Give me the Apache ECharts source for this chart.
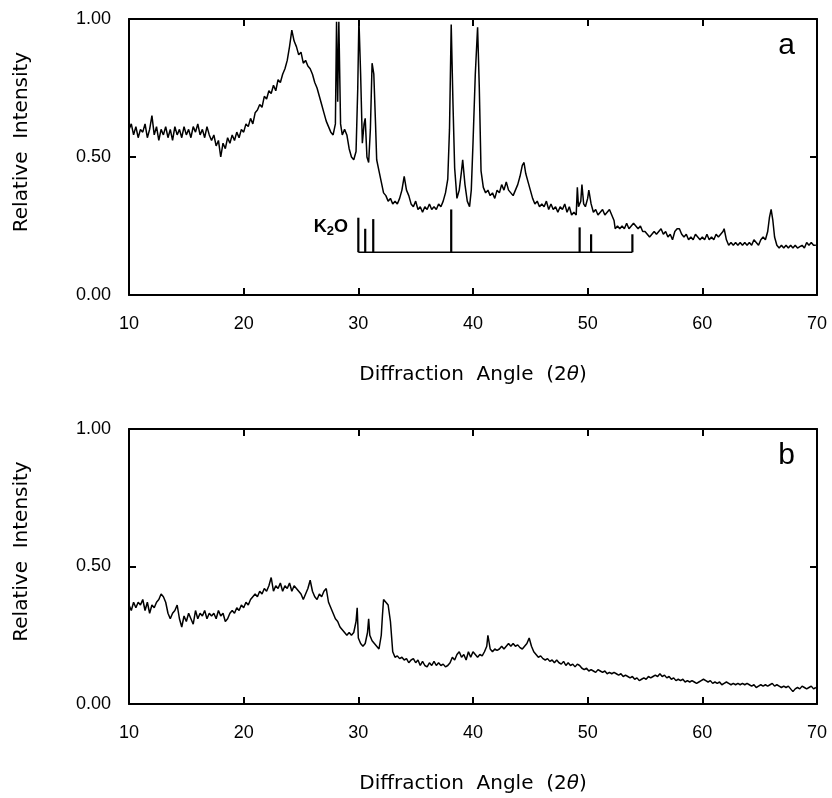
<!DOCTYPE html>
<html>
<head>
<meta charset="utf-8">
<script src="https://cdn.jsdelivr.net/npm/echarts@6/dist/echarts.min.js"></script>
<style>
html,body{margin:0;padding:0;background:#fff;}
#chart{width:832px;height:798px;}
</style>
</head>
<body>
<div id="chart"></div>
<script>
// ---- data ----
const xTicks = [10, 20, 30, 40, 50, 60, 70];
const yTicks = ['0.00', '0.50', '1.00'];

// panel a: [2theta, relative intensity]
const spectrumA = [
[10.0,0.60],[10.2,0.62],[10.4,0.58],[10.6,0.61],[10.8,0.57],[11.0,0.60],[11.2,0.59],[11.4,0.62],[11.6,0.57],[11.8,0.60],
[12.0,0.65],[12.2,0.58],[12.4,0.61],[12.6,0.56],[12.8,0.60],[13.0,0.58],[13.2,0.61],[13.4,0.57],[13.6,0.60],[13.8,0.56],
[14.0,0.61],[14.2,0.58],[14.4,0.60],[14.6,0.57],[14.8,0.61],[15.0,0.58],[15.2,0.60],[15.4,0.57],[15.6,0.61],[15.8,0.59],
[16.0,0.62],[16.2,0.58],[16.4,0.60],[16.6,0.57],[16.8,0.61],[17.0,0.58],[17.2,0.56],[17.4,0.58],[17.6,0.54],[17.8,0.56],
[18.0,0.50],[18.2,0.55],[18.4,0.53],[18.6,0.57],[18.8,0.55],[19.0,0.58],[19.2,0.56],[19.4,0.59],[19.6,0.57],[19.8,0.60],
[20.0,0.59],[20.2,0.62],[20.4,0.61],[20.6,0.64],[20.8,0.62],[21.0,0.66],[21.2,0.67],[21.4,0.69],[21.6,0.68],[21.8,0.72],
[22.0,0.71],[22.2,0.74],[22.4,0.73],[22.6,0.76],[22.8,0.74],[23.0,0.78],[23.2,0.77],[23.4,0.80],[23.6,0.82],[23.8,0.85],
[24.0,0.90],[24.2,0.96],[24.4,0.92],[24.6,0.90],[24.8,0.87],[25.0,0.88],[25.2,0.84],[25.4,0.85],[25.6,0.83],[25.8,0.82],
[26.0,0.80],[26.2,0.77],[26.4,0.75],[26.6,0.72],[26.8,0.69],[27.0,0.66],[27.2,0.63],[27.4,0.61],[27.6,0.59],[27.8,0.58],
[28.0,0.62],[28.1,0.99],[28.2,0.70],[28.3,0.99],[28.45,0.62],[28.6,0.58],[28.8,0.60],[29.0,0.58],[29.2,0.53],[29.4,0.50],
[29.6,0.49],[29.8,0.52],[29.95,0.75],[30.05,1.0],[30.2,0.80],[30.35,0.55],[30.5,0.62],[30.6,0.64],[30.75,0.50],[30.9,0.48],
[31.05,0.60],[31.2,0.84],[31.35,0.80],[31.5,0.62],[31.6,0.49],[31.8,0.45],[32.0,0.41],[32.2,0.37],[32.4,0.36],[32.6,0.34],
[32.8,0.35],[33.0,0.33],[33.2,0.34],[33.4,0.33],[33.6,0.35],[33.8,0.38],[34.0,0.43],[34.2,0.38],[34.4,0.36],[34.6,0.33],
[34.8,0.32],[35.0,0.34],[35.2,0.31],[35.4,0.32],[35.6,0.30],[35.8,0.32],[36.0,0.31],[36.2,0.33],[36.4,0.31],[36.6,0.32],
[36.8,0.31],[37.0,0.33],[37.2,0.32],[37.4,0.34],[37.6,0.37],[37.8,0.42],[37.95,0.60],[38.1,0.98],[38.25,0.70],[38.4,0.46],
[38.6,0.35],[38.8,0.38],[39.0,0.45],[39.1,0.49],[39.3,0.40],[39.5,0.34],[39.7,0.32],[39.85,0.38],[40.0,0.55],[40.2,0.80],
[40.4,0.97],[40.55,0.75],[40.7,0.45],[40.9,0.39],[41.1,0.37],[41.3,0.38],[41.5,0.36],[41.7,0.37],[41.9,0.35],[42.1,0.38],
[42.3,0.37],[42.5,0.40],[42.7,0.38],[42.9,0.41],[43.1,0.38],[43.3,0.37],[43.5,0.36],[43.7,0.38],[43.9,0.40],[44.1,0.43],
[44.3,0.47],[44.45,0.48],[44.6,0.44],[44.8,0.41],[45.0,0.38],[45.2,0.35],[45.4,0.33],[45.6,0.34],[45.8,0.32],[46.0,0.33],
[46.2,0.32],[46.4,0.34],[46.6,0.31],[46.8,0.33],[47.0,0.31],[47.2,0.32],[47.4,0.30],[47.6,0.32],[47.8,0.31],[48.0,0.33],
[48.2,0.30],[48.4,0.32],[48.6,0.29],[48.8,0.30],[49.0,0.29],[49.1,0.39],[49.2,0.32],[49.4,0.34],[49.5,0.40],[49.65,0.33],
[49.8,0.32],[50.0,0.35],[50.1,0.38],[50.3,0.33],[50.5,0.30],[50.7,0.31],[50.9,0.29],[51.1,0.30],[51.3,0.31],[51.5,0.29],
[51.7,0.30],[51.9,0.31],[52.1,0.29],[52.3,0.27],[52.4,0.24],[52.6,0.25],[52.8,0.24],[53.0,0.25],[53.2,0.24],[53.4,0.26],
[53.6,0.24],[53.8,0.25],[54.0,0.26],[54.2,0.25],[54.4,0.24],[54.6,0.25],[54.8,0.23],[55.0,0.23],[55.2,0.22],[55.4,0.21],
[55.6,0.22],[55.8,0.23],[56.0,0.22],[56.2,0.23],[56.4,0.24],[56.6,0.22],[56.8,0.23],[57.0,0.21],[57.2,0.22],[57.4,0.20],
[57.6,0.23],[57.8,0.24],[58.0,0.24],[58.2,0.22],[58.4,0.21],[58.6,0.22],[58.8,0.20],[59.0,0.21],[59.2,0.20],[59.4,0.22],
[59.6,0.21],[59.8,0.20],[60.0,0.21],[60.2,0.20],[60.4,0.22],[60.6,0.20],[60.8,0.21],[61.0,0.20],[61.2,0.22],[61.4,0.21],
[61.6,0.22],[61.8,0.23],[61.9,0.24],[62.1,0.20],[62.3,0.18],[62.5,0.19],[62.7,0.18],[62.9,0.19],[63.1,0.18],[63.3,0.19],
[63.5,0.18],[63.7,0.19],[63.9,0.18],[64.1,0.19],[64.3,0.18],[64.5,0.20],[64.7,0.19],[64.9,0.18],[65.1,0.20],[65.3,0.21],
[65.5,0.20],[65.7,0.23],[65.85,0.28],[66.0,0.31],[66.15,0.27],[66.3,0.21],[66.5,0.18],[66.7,0.17],[66.9,0.18],[67.1,0.17],
[67.3,0.18],[67.5,0.17],[67.7,0.18],[67.9,0.17],[68.1,0.18],[68.3,0.17],[68.5,0.175],[68.7,0.18],[68.9,0.17],[69.1,0.19],
[69.3,0.18],[69.5,0.19],[69.7,0.18],[69.9,0.18]
];

// panel b
const spectrumB = [
[10.0,0.36],[10.2,0.34],[10.4,0.37],[10.6,0.35],[10.8,0.37],[11.0,0.36],[11.2,0.38],[11.4,0.34],[11.6,0.37],[11.8,0.33],
[12.0,0.36],[12.2,0.35],[12.4,0.37],[12.6,0.38],[12.8,0.40],[13.0,0.39],[13.2,0.37],[13.4,0.33],[13.6,0.31],[13.8,0.33],
[14.0,0.34],[14.2,0.36],[14.4,0.31],[14.6,0.28],[14.8,0.32],[15.0,0.30],[15.2,0.33],[15.4,0.31],[15.6,0.29],[15.8,0.34],
[16.0,0.31],[16.2,0.33],[16.4,0.32],[16.6,0.34],[16.8,0.31],[17.0,0.33],[17.2,0.32],[17.4,0.33],[17.6,0.31],[17.8,0.34],
[18.0,0.32],[18.2,0.33],[18.4,0.30],[18.6,0.31],[18.8,0.33],[19.0,0.34],[19.2,0.33],[19.4,0.35],[19.6,0.34],[19.8,0.36],
[20.0,0.35],[20.2,0.37],[20.4,0.36],[20.6,0.38],[20.8,0.39],[21.0,0.40],[21.2,0.39],[21.4,0.41],[21.6,0.40],[21.8,0.42],
[22.0,0.41],[22.2,0.43],[22.4,0.46],[22.6,0.41],[22.8,0.43],[23.0,0.42],[23.2,0.44],[23.4,0.41],[23.6,0.43],[23.8,0.42],
[24.0,0.44],[24.2,0.41],[24.4,0.43],[24.6,0.42],[24.8,0.41],[25.0,0.40],[25.2,0.38],[25.4,0.40],[25.6,0.42],[25.8,0.45],
[26.0,0.41],[26.2,0.39],[26.4,0.38],[26.6,0.40],[26.8,0.39],[27.0,0.41],[27.2,0.42],[27.4,0.37],[27.6,0.35],[27.8,0.33],
[28.0,0.31],[28.2,0.30],[28.4,0.28],[28.6,0.27],[28.8,0.26],[29.0,0.25],[29.2,0.26],[29.4,0.25],[29.6,0.26],[29.8,0.30],
[29.9,0.35],[30.0,0.24],[30.2,0.22],[30.4,0.21],[30.6,0.22],[30.8,0.26],[30.9,0.31],[31.0,0.25],[31.2,0.23],[31.4,0.22],
[31.6,0.21],[31.8,0.20],[32.0,0.25],[32.1,0.32],[32.2,0.38],[32.4,0.37],[32.6,0.36],[32.8,0.30],[33.0,0.19],[33.2,0.17],
[33.4,0.175],[33.6,0.165],[33.8,0.17],[34.0,0.16],[34.2,0.165],[34.4,0.15],[34.6,0.16],[34.8,0.165],[35.0,0.15],[35.2,0.16],
[35.4,0.14],[35.6,0.155],[35.8,0.14],[36.0,0.135],[36.2,0.15],[36.4,0.14],[36.6,0.155],[36.8,0.14],[37.0,0.15],[37.2,0.14],
[37.4,0.145],[37.6,0.135],[37.8,0.14],[38.0,0.15],[38.2,0.17],[38.4,0.16],[38.6,0.18],[38.8,0.19],[39.0,0.17],[39.2,0.18],
[39.4,0.16],[39.6,0.19],[39.8,0.17],[40.0,0.19],[40.2,0.18],[40.4,0.17],[40.6,0.18],[40.8,0.175],[41.0,0.19],[41.2,0.21],
[41.3,0.25],[41.5,0.20],[41.7,0.19],[41.9,0.20],[42.1,0.195],[42.3,0.20],[42.5,0.21],[42.7,0.20],[42.9,0.21],[43.1,0.22],
[43.3,0.21],[43.5,0.22],[43.7,0.21],[43.9,0.215],[44.1,0.205],[44.3,0.20],[44.5,0.21],[44.7,0.22],[44.9,0.24],[45.1,0.21],
[45.3,0.19],[45.5,0.18],[45.7,0.17],[45.9,0.175],[46.1,0.165],[46.3,0.16],[46.5,0.165],[46.7,0.155],[46.9,0.16],[47.1,0.15],
[47.3,0.16],[47.5,0.15],[47.7,0.145],[47.9,0.155],[48.1,0.14],[48.3,0.15],[48.5,0.14],[48.7,0.145],[48.9,0.135],[49.1,0.145],
[49.3,0.14],[49.5,0.13],[49.7,0.125],[49.9,0.13],[50.1,0.12],[50.3,0.125],[50.5,0.12],[50.7,0.115],[50.9,0.125],[51.1,0.12],
[51.3,0.115],[51.5,0.12],[51.7,0.11],[51.9,0.115],[52.1,0.11],[52.3,0.115],[52.5,0.11],[52.7,0.105],[52.9,0.11],[53.1,0.10],
[53.3,0.105],[53.5,0.10],[53.7,0.095],[53.9,0.10],[54.1,0.09],[54.3,0.095],[54.5,0.085],[54.7,0.09],[54.9,0.095],[55.1,0.09],
[55.3,0.10],[55.5,0.095],[55.7,0.10],[55.9,0.105],[56.1,0.10],[56.3,0.11],[56.5,0.10],[56.7,0.105],[56.9,0.095],[57.1,0.10],
[57.3,0.09],[57.5,0.095],[57.7,0.085],[57.9,0.09],[58.1,0.085],[58.3,0.09],[58.5,0.08],[58.7,0.085],[58.9,0.08],[59.1,0.085],
[59.3,0.08],[59.5,0.075],[59.7,0.08],[59.9,0.085],[60.1,0.09],[60.3,0.085],[60.5,0.08],[60.7,0.085],[60.9,0.075],[61.1,0.08],
[61.3,0.075],[61.5,0.08],[61.7,0.07],[61.9,0.075],[62.1,0.08],[62.3,0.075],[62.5,0.07],[62.7,0.075],[62.9,0.07],[63.1,0.075],
[63.3,0.07],[63.5,0.075],[63.7,0.07],[63.9,0.075],[64.1,0.07],[64.3,0.065],[64.5,0.07],[64.7,0.06],[64.9,0.065],[65.1,0.07],
[65.3,0.065],[65.5,0.07],[65.7,0.065],[65.9,0.07],[66.1,0.075],[66.3,0.065],[66.5,0.07],[66.7,0.065],[66.9,0.06],[67.1,0.065],
[67.3,0.06],[67.5,0.065],[67.7,0.055],[67.9,0.045],[68.1,0.055],[68.3,0.06],[68.5,0.055],[68.7,0.065],[68.9,0.06],[69.1,0.055],
[69.3,0.06],[69.5,0.065],[69.7,0.055],[69.9,0.06]
];

// K2O reference pattern (stick positions / heights) and baseline
const k2oPositions = [30.0, 30.6, 31.3, 38.1, 49.3, 50.3, 53.9];
const k2oHeights   = [0.28, 0.24, 0.275, 0.31, 0.245, 0.22, 0.22];
const k2oBaseline  = 0.155;
const k2oLabelAt   = [29.1, 0.245];

// ---- chart ----
const FONT = '"Liberation Sans", Arial, Helvetica, sans-serif';
const WIDE = '"DejaVu Sans", Verdana, sans-serif';
const chart = echarts.init(document.getElementById('chart'), null, {renderer: 'canvas'});

const gridA = {left: 129, right: 15, top: 19, height: 276};
const gridB = {left: 129, right: 15, top: 429, height: 275};

function xAxes(gi) {
  return [
    {
      type: 'value', gridIndex: gi, position: 'bottom',
      min: xTicks[0], max: xTicks[xTicks.length - 1], interval: 10,
      axisLine: {show: true, onZero: false, lineStyle: {color: '#000', width: 2}},
      axisTick: {show: true, inside: true, length: 7, lineStyle: {color: '#000', width: 2}},
      axisLabel: {show: true, margin: 20, color: '#000', fontSize: 18, fontFamily: FONT},
      splitLine: {show: false},
      name: '{t|Diffraction  Angle  (2}{i|θ}{t|)}',
      nameLocation: 'middle', nameGap: 70,
      nameTextStyle: {
        color: '#000',
        rich: {
          t: {fontSize: 20, fontFamily: WIDE, color: '#000'},
          i: {fontSize: 20, fontFamily: WIDE, color: '#000', fontStyle: 'italic'}
        }
      }
    },
    {
      type: 'value', gridIndex: gi, position: 'top',
      min: xTicks[0], max: xTicks[xTicks.length - 1], interval: 10,
      axisLine: {show: true, onZero: false, lineStyle: {color: '#000', width: 2}},
      axisTick: {show: true, inside: true, length: 7, lineStyle: {color: '#000', width: 2}},
      axisLabel: {show: false},
      splitLine: {show: false}
    }
  ];
}
function yAxes(gi) {
  return [
    {
      type: 'value', gridIndex: gi, position: 'left',
      min: 0, max: 1, interval: 0.5,
      axisLine: {show: true, onZero: false, lineStyle: {color: '#000', width: 2}},
      axisTick: {show: true, inside: true, length: 7, lineStyle: {color: '#000', width: 2}},
      axisLabel: {show: true, margin: 18, color: '#000', fontSize: 18, fontFamily: FONT,
        formatter: (v) => yTicks[Math.round(v * 2)]},
      splitLine: {show: false},
      name: 'Relative  Intensity',
      nameLocation: 'middle', nameGap: 97,
      nameTextStyle: {color: '#000', fontSize: 20, fontFamily: WIDE, padding: [0, 0, 0, 30]}
    },
    {
      type: 'value', gridIndex: gi, position: 'right',
      min: 0, max: 1, interval: 0.5,
      axisLine: {show: true, onZero: false, lineStyle: {color: '#000', width: 2}},
      axisTick: {show: true, inside: true, length: 7, lineStyle: {color: '#000', width: 2}},
      axisLabel: {show: false},
      splitLine: {show: false}
    }
  ];
}

const stickData = k2oPositions.map((x, i) => [x, k2oHeights[i]]);

const option = {
  animation: false,
  backgroundColor: '#fff',
  grid: [gridA, gridB],
  xAxis: [...xAxes(0), ...xAxes(1)],
  yAxis: [...yAxes(0), ...yAxes(1)],
  title: [
    {text: 'a', right: 32, top: 26, textStyle: {fontSize: 30, fontWeight: 'normal', color: '#000', fontFamily: FONT}},
    {text: 'b', right: 32, top: 436, textStyle: {fontSize: 30, fontWeight: 'normal', color: '#000', fontFamily: FONT}}
  ],
  series: [
    {
      type: 'line', xAxisIndex: 0, yAxisIndex: 0, data: spectrumA,
      showSymbol: false, symbol: 'none', lineStyle: {color: '#000', width: 1.5}, z: 3
    },
    {
      type: 'line', xAxisIndex: 2, yAxisIndex: 2, data: spectrumB,
      showSymbol: false, symbol: 'none', lineStyle: {color: '#000', width: 1.5}, z: 3
    },
    {
      type: 'line', xAxisIndex: 0, yAxisIndex: 0,
      data: [[k2oPositions[0], k2oBaseline], [k2oPositions[k2oPositions.length - 1], k2oBaseline]],
      showSymbol: false, symbol: 'none', lineStyle: {color: '#000', width: 1.5}, z: 4
    },
    {
      type: 'custom', xAxisIndex: 0, yAxisIndex: 0, data: stickData,
      renderItem: function (params, api) {
        const top = api.coord([api.value(0), api.value(1)]);
        const bot = api.coord([api.value(0), k2oBaseline]);
        return {
          type: 'line',
          shape: {x1: top[0], y1: top[1], x2: bot[0], y2: bot[1]},
          style: {stroke: '#000', lineWidth: 2.2}
        };
      },
      z: 4
    },
    {
      type: 'scatter', xAxisIndex: 0, yAxisIndex: 0, data: [k2oLabelAt],
      symbolSize: 0,
      itemStyle: {opacity: 1, color: '#000'},
      label: {
        show: true, position: 'left', distance: 0, color: '#000', opacity: 1,
        formatter: '{k|K}{s|2}{k|O}',
        rich: {
          k: {fontSize: 18, fontWeight: 'bold', fontFamily: FONT, color: '#000'},
          s: {fontSize: 13, fontWeight: 'bold', fontFamily: FONT, color: '#000', padding: [9, 0, 0, 0]}
        }
      },
      z: 5
    }
  ]
};
chart.setOption(option);
</script>
</body>
</html>
